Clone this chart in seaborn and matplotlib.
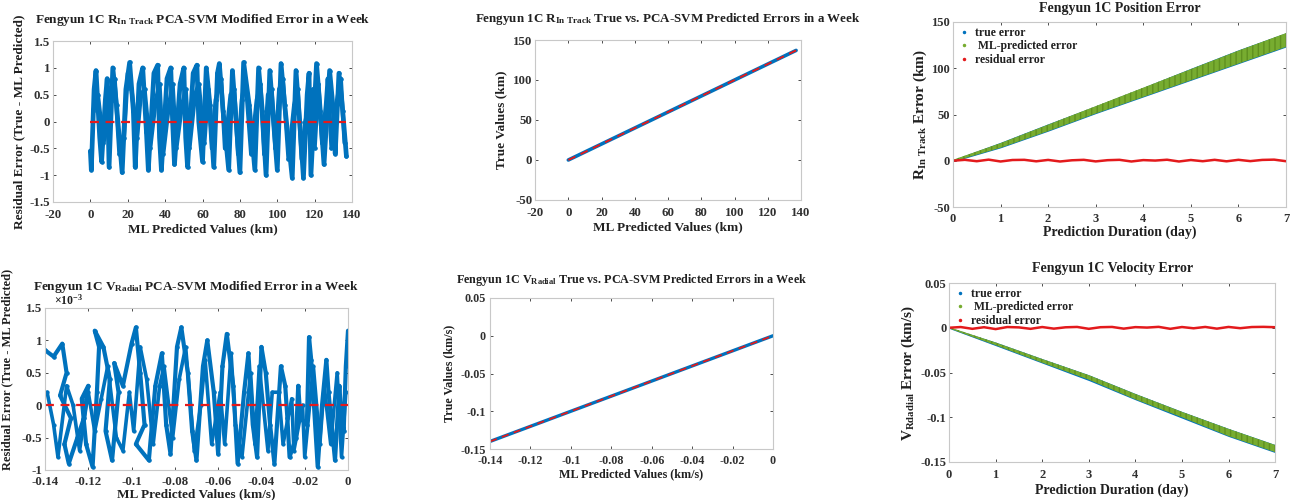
import numpy as np
import pandas as pd
import matplotlib
matplotlib.use("Agg")
import matplotlib.pyplot as plt
import seaborn as sns
from matplotlib.lines import Line2D

# ---------------- data ----------------
# Top-left: in-track residual vs ML predicted (km), two traced strands
tl_pred = [0, 0.5, 2, 3, 5, 6, 8, 9, 10, 12, 14, 17, 19, 21, 23, 24, 26, 28, 30, 31,
           34, 36, 37, 38, 41, 43, 44, 45, 48, 50, 51, 52, 55, 57, 58, 60, 62, 64, 66,
           68, 69, 71, 74, 76, 78, 80, 82, 85, 88, 90, 92, 94, 96, 98, 100, 102, 104,
           108, 110, 112, 114, 116, 117, 118, 121, 123, 125, 128, 130, 131, 133, 135, 137]
tl_resid = [-0.55, -0.9, 0.6, 0.95, -0.3, -0.75, 0.4, 0.8, -0.85, 1.0, 0.3, -0.95, 0.6, 1.1,
            0.2, -0.85, 0.7, 1.0, -0.2, -0.9, 0.9, 1.05, -0.3, -0.9, 0.8, 1.0, 0.0, -0.8,
            0.7, 1.0, -0.3, -0.85, 0.9, 1.05, 0.0, -0.75, 1.0, 0.3, -0.85, 0.9, 1.08, 0.2,
            -0.9, 0.95, 0.0, -0.95, 1.1, 0.3, -0.9, 1.0, 0.2, -1.0, 0.95, 0.0, -0.9, 1.08,
            0.3, -1.05, 0.95, 0.0, -1.05, 0.5, 0.9, -1.0, 1.08, 0.2, -0.8, 0.95, 0.2, -0.6,
            0.9, 0.2, -0.65]
tl_pred2 = [1.5, 4, 7, 9.5, 13, 15.5, 18, 20, 22, 25, 27, 29, 32, 35, 37, 39, 42, 44, 46,
            49, 51, 53, 56, 58, 61, 63, 65, 67, 70, 72, 75, 77, 79, 81, 83, 86, 89, 91, 93,
            95, 97, 99, 101, 103, 106, 109, 111, 113, 115, 119, 120, 122, 124, 126, 127,
            129, 132, 134, 136]
tl_resid2 = [0.2, 0.5, -0.4, 0.0, 0.8, -0.6, -0.3, 0.9, 0.6, -0.3, 0.5, 0.6, -0.5, 0.4,
             0.7, -0.6, 0.3, 0.7, -0.5, 0.3, 0.6, -0.5, 0.5, 0.7, -0.4, 0.6, -0.5, 0.4,
             0.8, -0.5, 0.5, 0.6, -0.6, 0.4, 0.8, -0.6, 0.4, 0.7, -0.6, 0.5, 0.6, -0.5,
             0.6, 0.8, -0.7, 0.3, 0.6, -0.7, 0.0, 0.6, -0.5, 0.7, -0.4, 0.3, 0.8, -0.5,
             0.4, 0.8, -0.4]

# Bottom-left: radial velocity residual vs ML predicted (km/s), two traced strands
bl_pred = [-0.140, -0.136, -0.132, -0.130, -0.133, -0.128, -0.131, -0.129, -0.125, -0.122,
           -0.120, -0.123, -0.121, -0.118, -0.116, -0.115, -0.117, -0.113, -0.110, -0.112,
           -0.109, -0.106, -0.108, -0.104, -0.100, -0.098, -0.096, -0.094, -0.098, -0.092,
           -0.089, -0.086, -0.084, -0.082, -0.079, -0.077, -0.074, -0.072, -0.070, -0.067,
           -0.065, -0.062, -0.060, -0.058, -0.056, -0.053, -0.051, -0.048, -0.046, -0.044,
           -0.042, -0.040, -0.038, -0.036, -0.034, -0.031, -0.029, -0.028, -0.027, -0.024,
           -0.023, -0.022, -0.019, -0.018, -0.017, -0.015, -0.014, -0.012, -0.010, -0.009,
           -0.007, -0.006, -0.004, -0.003, -0.002, -0.001, 0.0]
bl_resid = [0.85e-3, 0.75e-3, 0.95e-3, 0.5e-3, 0.15e-3, -0.2e-3, -0.6e-3, -0.9e-3, -0.5e-3,
            -0.2e-3, 0.3e-3, 0.1e-3, -0.6e-3, -0.95e-3, 0.2e-3, 0.9e-3, 1.15e-3, 0.9e-3,
            0.4e-3, -0.4e-3, -0.85e-3, 0.2e-3, 0.65e-3, 0.3e-3, 0.95e-3, 1.2e-3, 0.5e-3,
            -0.3e-3, -0.6e-3, -0.85e-3, 0.3e-3, 0.8e-3, -0.3e-3, -0.75e-3, 0.9e-3, 1.2e-3,
            0.5e-3, -0.4e-3, -0.85e-3, 0.6e-3, 1.0e-3, 0.2e-3, -0.75e-3, 0.6e-3, 1.1e-3,
            0.3e-3, -0.9e-3, 0.2e-3, 0.8e-3, -0.3e-3, -0.8e-3, 0.9e-3, 0.5e-3, -0.3e-3,
            -0.9e-3, 0.6e-3, 0.3e-3, -0.2e-3, -0.8e-3, -0.5e-3, 0.3e-3, -0.2e-3, -0.3e-3,
            1.05e-3, 0.7e-3, -0.4e-3, -0.95e-3, 0.0, 0.7e-3, 0.2e-3, -0.5e-3, -0.85e-3,
            0.3e-3, -0.2e-3, -0.4e-3, 0.6e-3, 1.15e-3]
bl_pred2 = [-0.139, -0.136, -0.134, -0.130, -0.127, -0.124, -0.120, -0.117, -0.114, -0.111,
            -0.107, -0.104, -0.101, -0.099, -0.096, -0.093, -0.090, -0.087, -0.085, -0.081,
            -0.078, -0.075, -0.071, -0.068, -0.066, -0.063, -0.059, -0.057, -0.054, -0.052,
            -0.049, -0.045, -0.043, -0.041, -0.037, -0.035, -0.032, -0.030, -0.026, -0.025,
            -0.021, -0.020, -0.016, -0.013, -0.011, -0.008, -0.005, -0.003, -0.001]
bl_resid2 = [0.2e-3, -0.3e-3, -0.8e-3, 0.3e-3, 0.0, -0.7e-3, 0.2e-3, -0.4e-3, 0.1e-3,
             0.6e-3, -0.5e-3, -0.7e-3, 0.2e-3, -0.4e-3, 0.9e-3, 0.4e-3, -0.6e-3, 0.3e-3,
             0.6e-3, -0.5e-3, 0.4e-3, 0.9e-3, -0.7e-3, 0.0, 0.7e-3, -0.6e-3, 0.2e-3,
             -0.6e-3, 0.8e-3, -0.3e-3, -0.8e-3, 0.5e-3, -0.6e-3, 0.6e-3, -0.7e-3, 0.2e-3,
             0.2e-3, -0.6e-3, 0.1e-3, -0.7e-3, 0.0, -0.8e-3, 0.6e-3, -0.6e-3, 0.3e-3,
             -0.6e-3, 0.5e-3, -0.8e-3, 0.2e-3]

# Top-middle: true vs predicted in-track error (km)
tm_pred = [0, 20, 40, 60, 80, 100, 120, 137]
tm_true = [0, 20, 40, 60, 80, 100, 120, 137]

# Bottom-middle: true vs predicted radial velocity error (km/s)
bm_pred = [-0.14, -0.12, -0.10, -0.08, -0.06, -0.04, -0.02, 0.0]
bm_true = [-0.14, -0.12, -0.10, -0.08, -0.06, -0.04, -0.02, 0.0]

# Top-right: position error over 7 days (km) - band limits per day
days = [0, 1, 2, 3, 4, 5, 6, 7]
pos_true_hi = [1.3, 20, 40, 59.5, 79.5, 100, 120, 138.5]
pos_true_lo = [-1, 14, 32, 51, 69, 87, 105, 123]
pos_ml_hi = [1, 19, 39, 59, 79, 99, 119, 138]
pos_ml_lo = [-1, 14, 32, 51, 69, 87, 105, 123]
res_days = [0, 0.25, 0.5, 0.75, 1, 1.25, 1.5, 1.75, 2, 2.25, 2.5, 2.75, 3, 3.25, 3.5,
            3.75, 4, 4.25, 4.5, 4.75, 5, 5.25, 5.5, 5.75, 6, 6.25, 6.5, 6.75, 7]
pos_resid = [0, 1.0, -0.5, 1.2, -0.8, 0.8, 1.0, -0.6, 0.9, -0.8, 0.5, 1.0, -0.7, 0.6,
             1.0, -0.8, 0.7, 0.2, 1.1, -0.8, 0.8, -0.5, 1.0, -0.6, 1.0, -0.4, 0.9, 1.2, -0.5]

# Bottom-right: velocity error over 7 days (km/s)
vel_true_hi = [0.0007, -0.0160, -0.0345, -0.0525, -0.0735, -0.0935, -0.1125, -0.1305]
vel_true_lo = [-0.0007, -0.0200, -0.0395, -0.0590, -0.0805, -0.1010, -0.1215, -0.1395]
vel_ml_hi = [0.0007, -0.0165, -0.035, -0.053, -0.074, -0.094, -0.113, -0.131]
vel_ml_lo = [-0.0007, -0.0195, -0.039, -0.058, -0.080, -0.100, -0.121, -0.139]
vel_resid = [0, 0.0008, -0.0012, 0.0006, -0.0015, 0.0008, 0.0004, -0.0012, 0.0008,
             -0.0010, 0.0005, 0.0009, -0.0012, 0.0006, 0.0009, -0.0010, 0.0007, 0.0002,
             0.0010, -0.0012, 0.0008, -0.0006, 0.0009, -0.0010, 0.0009, -0.0005, 0.0008,
             0.0010, 0.0006]

# ---------------- style ----------------
sns.set_theme(style="white")
plt.rcParams["font.family"] = ["Liberation Serif", "DejaVu Serif"]
plt.rcParams["font.weight"] = "bold"
plt.rcParams["axes.labelweight"] = "bold"
plt.rcParams["axes.titleweight"] = "bold"
plt.rcParams["mathtext.fontset"] = "custom"
plt.rcParams["mathtext.rm"] = "Liberation Serif:bold"
plt.rcParams["mathtext.it"] = "Liberation Serif:bold"
plt.rcParams["mathtext.bf"] = "Liberation Serif:bold"
plt.rcParams["axes.edgecolor"] = "#c8c8c8"
plt.rcParams["axes.linewidth"] = 0.8
plt.rcParams["text.color"] = "#202020"
plt.rcParams["axes.labelcolor"] = "#202020"

BLUE = "#0072BD"
GREEN = "#77AC30"
RED = "#E31A1C"

fig = plt.figure(figsize=(12.99, 5.0), dpi=100)

def style_ax(ax, fs, xpad=2, ypad=2):
    ax.tick_params(direction="in", length=2.5, width=0.6, labelsize=fs,
                   top=True, right=True, bottom=True, left=True,
                   colors="#303030")
    ax.tick_params(axis="x", pad=xpad)
    ax.tick_params(axis="y", pad=ypad)
    for t in ax.get_xticklabels() + ax.get_yticklabels():
        t.set_fontweight("bold")
    for s in ax.spines.values():
        s.set_visible(True)
        s.set_color("#c8c8c8")

# ---- Top-left ----
ax1 = fig.add_axes([0.0408, 0.596, 0.2302, 0.322])
sns.lineplot(x=tl_pred2, y=tl_resid2, sort=False, estimator=None, ax=ax1, color=BLUE,
             lw=3.0, marker="o", ms=2.5, mec=BLUE)
sns.lineplot(x=tl_pred, y=tl_resid, sort=False, estimator=None, ax=ax1, color=BLUE,
             lw=3.4, marker="o", ms=2.5, mec=BLUE)
sns.lineplot(x=[0, 137], y=[0, 0], ax=ax1, color=RED, lw=1.6, linestyle=(0, (4, 3)))
ax1.set_xlim(-20, 140)
ax1.set_ylim(-1.5, 1.5)
ax1.set_xticks(np.arange(-20, 141, 20))
ax1.set_yticks([-1.5, -1, -0.5, 0, 0.5, 1, 1.5])
ax1.set_yticklabels(["-1.5", "-1", "-0.5", "0", "0.5", "1", "1.5"])
ax1.set_xticklabels(["-20", "0", "20", "40", "60", "80", "100", "120", "140"])
ax1.set_title(r"Fengyun 1C R$_{\mathrm{In\ Track}}$ PCA-SVM Modified Error in a Week",
              fontsize=9.5, pad=13)
ax1.set_xlabel("ML Predicted Values (km)", fontsize=9.5, labelpad=2)
ax1.set_ylabel("Residual Error (True - ML Predicted)", fontsize=9.5, labelpad=3)
style_ax(ax1, 9.3, xpad=5)

# ---- Bottom-left ----
ax2 = fig.add_axes([0.0346, 0.06, 0.2333, 0.324])
sns.lineplot(x=bl_pred2, y=bl_resid2, sort=False, estimator=None, ax=ax2, color=BLUE,
             lw=2.6, marker="o", ms=2.3, mec=BLUE)
sns.lineplot(x=bl_pred, y=bl_resid, sort=False, estimator=None, ax=ax2, color=BLUE,
             lw=3.0, marker="o", ms=2.5, mec=BLUE)
sns.lineplot(x=[-0.14, 0], y=[0, 0], ax=ax2, color=RED, lw=1.6, linestyle=(0, (4, 3)))
ax2.set_xlim(-0.14, 0)
ax2.set_ylim(-1e-3, 1.5e-3)
ax2.set_xticks([-0.14, -0.12, -0.1, -0.08, -0.06, -0.04, -0.02, 0])
ax2.set_xticklabels(["-0.14", "-0.12", "-0.1", "-0.08", "-0.06", "-0.04", "-0.02", "0"])
ax2.set_yticks([-1e-3, -0.5e-3, 0, 0.5e-3, 1e-3, 1.5e-3])
ax2.set_yticklabels(["-1", "-0.5", "0", "0.5", "1", "1.5"])
ax2.text(0.03, 1.005, r"$\times10^{-3}$", transform=ax2.transAxes, fontsize=8.5,
         ha="left", va="bottom")
ax2.set_title(r"Fengyun 1C V$_{\mathrm{Radial}}$ PCA-SVM Modified Error in a Week",
              fontsize=9.5, pad=13)
ax2.set_xlabel("ML Predicted Values (km/s)", fontsize=9.5, labelpad=0)
ax2.set_ylabel("Residual Error (True - ML Predicted)", fontsize=9.0, labelpad=2)
ax2.yaxis.set_label_coords(-0.105, 0.62)
style_ax(ax2, 9.3, xpad=4.5)

# ---- Top-middle ----
ax3 = fig.add_axes([0.4119, 0.60, 0.2048, 0.32])
sns.lineplot(x=tm_pred, y=tm_true, ax=ax3, color=BLUE, lw=2.6)
sns.lineplot(x=tm_pred, y=tm_true, ax=ax3, color=RED, lw=1.4, linestyle=(0, (4, 3)))
ax3.set_xlim(-20, 140)
ax3.set_ylim(-50, 150)
ax3.set_xticks(np.arange(-20, 141, 20))
ax3.set_xticklabels(["-20", "0", "20", "40", "60", "80", "100", "120", "140"])
ax3.set_yticks([-50, 0, 50, 100, 150])
ax3.set_yticklabels(["-50", "0", "50", "100", "150"])
ax3.set_title(r"Fengyun 1C R$_{\mathrm{In\ Track}}$ True vs. PCA-SVM Predicted Errors in a Week",
              fontsize=9.4, pad=13)
ax3.set_xlabel("ML Predicted Values (km)", fontsize=9.5, labelpad=2)
ax3.set_ylabel("True Values (km)", fontsize=9.5, labelpad=4)
style_ax(ax3, 9.3, xpad=5)

# ---- Bottom-middle ----
ax4 = fig.add_axes([0.3772, 0.102, 0.2179, 0.302])
sns.lineplot(x=bm_pred, y=bm_true, ax=ax4, color=BLUE, lw=2.4)
sns.lineplot(x=bm_pred, y=bm_true, ax=ax4, color=RED, lw=1.3, linestyle=(0, (4, 3)))
ax4.set_xlim(-0.14, 0)
ax4.set_ylim(-0.15, 0.05)
ax4.set_xticks([-0.14, -0.12, -0.1, -0.08, -0.06, -0.04, -0.02, 0])
ax4.set_xticklabels(["-0.14", "-0.12", "-0.1", "-0.08", "-0.06", "-0.04", "-0.02", "0"])
ax4.set_yticks([-0.15, -0.1, -0.05, 0, 0.05])
ax4.set_yticklabels(["-0.15", "-0.1", "-0.05", "0", "0.05"])
ax4.set_title(r"Fengyun 1C V$_{\mathrm{Radial}}$ True vs. PCA-SVM Predicted Errors in a Week",
              fontsize=8.7, pad=11)
ax4.set_xlabel("ML Predicted Values (km/s)", fontsize=8.7, labelpad=1)
ax4.set_ylabel("True Values (km/s)", fontsize=8.7, labelpad=4)
style_ax(ax4, 8.7, xpad=4.5, ypad=3)

def legend(ax, fs):
    handles = [Line2D([], [], color=BLUE, marker=".", ls="none", ms=3),
               Line2D([], [], color=GREEN, marker=".", ls="none", ms=3),
               Line2D([], [], color=RED, marker=".", ls="none", ms=3)]
    return ax.legend(handles, ["true error", " ML-predicted error", "residual error"],
                     loc="upper left", frameon=False, handlelength=1.0,
                     handletextpad=0.5, borderaxespad=0.1, borderpad=0.3,
                     labelspacing=0.15, prop={"weight": "bold", "size": fs})

# ---- Top-right ----
ax5 = fig.add_axes([0.7336, 0.586, 0.2564, 0.37])
ax5.fill_between(days, pos_true_lo, pos_true_hi, color=BLUE, lw=0)
ax5.fill_between(days, pos_ml_lo, pos_ml_hi, facecolor=GREEN, edgecolor="#5f9020",
                 hatch="|||", lw=0)
sns.lineplot(x=res_days, y=pos_resid, ax=ax5, color=RED, lw=1.8)
ax5.set_xlim(0, 7)
ax5.set_ylim(-50, 150)
ax5.set_xticks(range(0, 8))
ax5.set_yticks([-50, 0, 50, 100, 150])
ax5.set_yticklabels(["-50", "0", "50", "100", "150"])
ax5.set_title("Fengyun 1C Position Error", fontsize=10, pad=7)
ax5.set_xlabel("Prediction Duration (day)", fontsize=10, labelpad=1)
ax5.set_ylabel(r"R$_{\mathrm{In\ Track}}$ Error (km)", fontsize=11, labelpad=2)
style_ax(ax5, 9, xpad=4)
legend(ax5, 8.5)

# ---- Bottom-right ----
ax6 = fig.add_axes([0.7306, 0.076, 0.251, 0.358])
ax6.fill_between(days, vel_true_lo, vel_true_hi, color=BLUE, lw=0)
ax6.fill_between(days, vel_ml_lo, vel_ml_hi, facecolor=GREEN, edgecolor="#5f9020",
                 hatch="|||", lw=0)
sns.lineplot(x=res_days, y=vel_resid, ax=ax6, color=RED, lw=1.8)
ax6.set_xlim(0, 7)
ax6.set_ylim(-0.15, 0.05)
ax6.set_xticks(range(0, 8))
ax6.set_yticks([-0.15, -0.1, -0.05, 0, 0.05])
ax6.set_yticklabels(["-0.15", "-0.1", "-0.05", "0", "0.05"])
ax6.set_title("Fengyun 1C Velocity Error", fontsize=10, pad=8)
ax6.set_xlabel("Prediction Duration (day)", fontsize=10, labelpad=2)
ax6.set_ylabel(r"V$_{\mathrm{Rdadial}}$ Error (km/s)", fontsize=11, labelpad=2)
style_ax(ax6, 9, xpad=5)
legend(ax6, 8.5)

fig.savefig("out.png", dpi=100, facecolor="white")
